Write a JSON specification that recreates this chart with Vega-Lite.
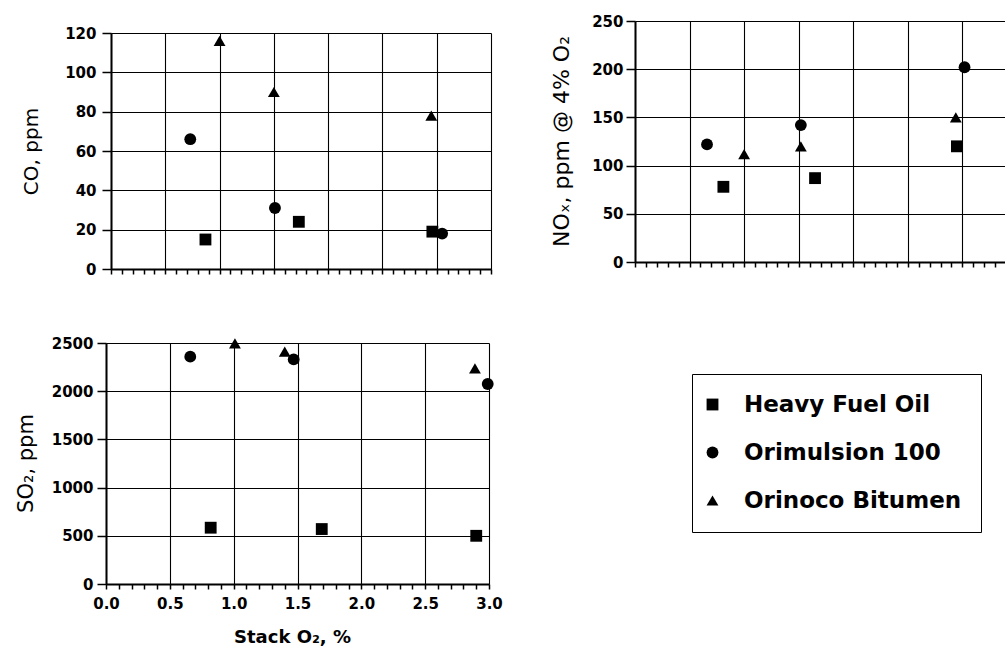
{
  "$schema": "https://vega.github.io/schema/vega-lite/v6.json",
  "padding": {"left": 14, "top": 14, "right": 0, "bottom": 0},
  "background": "white",
  "config": {
    "view": {"stroke": null},
    "font": "DejaVu Sans",
    "axis": {
      "domainColor": "black", "domainWidth": 2,
      "tickColor": "black", "tickWidth": 1.5,
      "gridColor": "black", "gridWidth": 1.1,
      "labelFont": "DejaVu Sans", "labelFontWeight": "bold", "labelFontSize": 15, "labelColor": "black", "labelFlush": false,
      "titleFont": "DejaVu Sans", "titleFontSize": 21, "titleFontWeight": "normal", "titleColor": "black"
    },
    "legend": {"labelFont": "DejaVu Sans", "labelFontSize": 23, "labelFontWeight": "bold", "labelColor": "black", "labelLimit": 400}
  },
  "datasets": {
    "co": [
      {"fuel": "Heavy Fuel Oil", "o2": 0.87, "value": 15},
      {"fuel": "Heavy Fuel Oil", "o2": 1.73, "value": 24},
      {"fuel": "Heavy Fuel Oil", "o2": 2.96, "value": 19},
      {"fuel": "Orimulsion 100", "o2": 0.73, "value": 66},
      {"fuel": "Orimulsion 100", "o2": 1.51, "value": 31},
      {"fuel": "Orimulsion 100", "o2": 3.05, "value": 18},
      {"fuel": "Orinoco Bitumen", "o2": 1.0, "value": 116},
      {"fuel": "Orinoco Bitumen", "o2": 1.5, "value": 90},
      {"fuel": "Orinoco Bitumen", "o2": 2.95, "value": 78}
    ],
    "nox": [
      {"fuel": "Heavy Fuel Oil", "o2": 0.81, "value": 78},
      {"fuel": "Heavy Fuel Oil", "o2": 1.65, "value": 87},
      {"fuel": "Heavy Fuel Oil", "o2": 2.95, "value": 120},
      {"fuel": "Orimulsion 100", "o2": 0.66, "value": 122},
      {"fuel": "Orimulsion 100", "o2": 1.52, "value": 142},
      {"fuel": "Orimulsion 100", "o2": 3.02, "value": 202},
      {"fuel": "Orinoco Bitumen", "o2": 1.0, "value": 112},
      {"fuel": "Orinoco Bitumen", "o2": 1.52, "value": 120},
      {"fuel": "Orinoco Bitumen", "o2": 2.94, "value": 150}
    ],
    "so2": [
      {"fuel": "Heavy Fuel Oil", "o2": 0.82, "value": 584},
      {"fuel": "Heavy Fuel Oil", "o2": 1.69, "value": 570},
      {"fuel": "Heavy Fuel Oil", "o2": 2.9, "value": 500},
      {"fuel": "Orimulsion 100", "o2": 0.66, "value": 2358},
      {"fuel": "Orimulsion 100", "o2": 1.47, "value": 2330},
      {"fuel": "Orimulsion 100", "o2": 2.99, "value": 2075},
      {"fuel": "Orinoco Bitumen", "o2": 1.01, "value": 2497},
      {"fuel": "Orinoco Bitumen", "o2": 1.4, "value": 2410},
      {"fuel": "Orinoco Bitumen", "o2": 2.89, "value": 2237}
    ]
  },
  "columns": 2,
  "spacing": {"row": 74, "column": 144},
  "bounds": "flush",
  "resolve": {"scale": {"x": "independent", "y": "independent", "shape": "independent", "size": "independent"}, "legend": {"shape": "independent", "size": "independent"}},
  "concat": [
    {
      "data": {"name": "co"},
      "width": 385,
      "height": 248,
      "resolve": {"axis": {"x": "independent"}},
      "layer": [
        {
          "mark": {"type": "point", "filled": true, "color": "black", "opacity": 1, "strokeWidth": 0},
          "encoding": {
            "x": {
              "field": "o2", "type": "quantitative",
              "scale": {"domain": [0, 3.5], "range": [5, 385], "nice": false, "zero": false},
              "axis": {
                "orient": "top", "title": null, "labels": false, "ticks": false, "domain": false, "grid": true,
                "values": [0, 0.5, 1, 1.5, 2, 2.5, 3, 3.5]
              }
            },
            "y": {
              "field": "value", "type": "quantitative",
              "scale": {"domain": [0, 120], "range": [248, 12], "nice": false},
              "axis": {
                "title": "CO, ppm", "offset": -5, "titleFontSize": 20,
                "titleX": -80, "titleY": 130, "titleAngle": -90, "titleAlign": "center", "titleBaseline": "middle",
                "values": [0, 20, 40, 60, 80, 100, 120], "format": "d",
                "tickSize": 9, "labelPadding": 6
              }
            },
            "shape": {
              "field": "fuel", "type": "nominal",
              "scale": {"domain": ["Heavy Fuel Oil", "Orimulsion 100", "Orinoco Bitumen"], "range": ["square", "circle", "triangle-up"]},
              "legend": null
            },
            "size": {
              "field": "fuel", "type": "nominal",
              "scale": {"domain": ["Heavy Fuel Oil", "Orimulsion 100", "Orinoco Bitumen"], "range": [140, 140, 185]},
              "legend": null
            }
          }
        },
        {
          "mark": {"type": "point", "opacity": 0},
          "encoding": {
            "x": {
              "field": "o2", "type": "quantitative",
              "axis": {
                "orient": "bottom", "title": null, "labels": false, "grid": false, "tickSize": 5,
                "values": [0,0.1,0.2,0.3,0.4,0.5,0.6,0.7,0.8,0.9,1,1.1,1.2,1.3,1.4,1.5,1.6,1.7,1.8,1.9,2,2.1,2.2,2.3,2.4,2.5,2.6,2.7,2.8,2.9,3,3.1,3.2,3.3,3.4,3.5]
              }
            }
          }
        }
      ]
    },
    {
      "data": {"name": "nox"},
      "width": 371,
      "height": 241,
      "mark": {"type": "point", "filled": true, "color": "black", "opacity": 1, "strokeWidth": 0},
      "encoding": {
        "x": {
          "field": "o2", "type": "quantitative",
          "scale": {"domain": [0, 3.4], "nice": false, "zero": false},
          "axis": {
            "title": null, "labels": false, "tickSize": 5,
            "values": [0,0.1,0.2,0.3,0.4,0.5,0.6,0.7,0.8,0.9,1,1.1,1.2,1.3,1.4,1.5,1.6,1.7,1.8,1.9,2,2.1,2.2,2.3,2.4,2.5,2.6,2.7,2.8,2.9,3,3.1,3.2,3.3,3.4],
            "gridOpacity": {"condition": {"test": "abs(datum.value*2 - round(datum.value*2)) < 0.01", "value": 1}, "value": 0}
          }
        },
        "y": {
          "field": "value", "type": "quantitative",
          "scale": {"domain": [0, 250], "nice": false},
          "axis": {
            "title": "NOₓ, ppm @ 4% O₂", "titleFontSize": 22,
            "titleX": -74, "titleY": 120, "titleAngle": -90, "titleAlign": "center", "titleBaseline": "middle",
            "values": [0, 50, 100, 150, 200, 250], "format": "d",
            "tickSize": 9, "labelPadding": 3
          }
        },
        "shape": {
          "field": "fuel", "type": "nominal",
          "scale": {"domain": ["Heavy Fuel Oil", "Orimulsion 100", "Orinoco Bitumen"], "range": ["square", "circle", "triangle-up"]},
          "legend": null
        },
        "size": {
          "field": "fuel", "type": "nominal",
          "scale": {"domain": ["Heavy Fuel Oil", "Orimulsion 100", "Orinoco Bitumen"], "range": [140, 140, 185]},
          "legend": null
        }
      }
    },
    {
      "data": {"name": "so2"},
      "width": 383,
      "height": 241,
      "mark": {"type": "point", "filled": true, "color": "black", "opacity": 1, "strokeWidth": 0},
      "encoding": {
        "x": {
          "field": "o2", "type": "quantitative",
          "scale": {"domain": [0, 3], "nice": false, "zero": false},
          "axis": {
            "title": "Stack O₂, %", "titleFontWeight": "bold", "titleFontSize": 18,
            "titleX": 186, "titleAlign": "center", "titleY": 53, "titleBaseline": "middle",
            "values": [0,0.1,0.2,0.3,0.4,0.5,0.6,0.7,0.8,0.9,1,1.1,1.2,1.3,1.4,1.5,1.6,1.7,1.8,1.9,2,2.1,2.2,2.3,2.4,2.5,2.6,2.7,2.8,2.9,3],
            "labelExpr": "abs(datum.value*2 - round(datum.value*2)) < 0.01 ? format(datum.value, '.1f') : ''",
            "labelAlign": "center", "labelFlush": false, "labelOverlap": false,
            "tickSize": 5, "labelPadding": 7,
            "gridOpacity": {"condition": {"test": "abs(datum.value*2 - round(datum.value*2)) < 0.01", "value": 1}, "value": 0}
          }
        },
        "y": {
          "field": "value", "type": "quantitative",
          "scale": {"domain": [0, 2500], "nice": false},
          "axis": {
            "title": "SO₂, ppm",
            "titleX": -80, "titleY": 120, "titleAngle": -90, "titleAlign": "center", "titleBaseline": "middle",
            "values": [0, 500, 1000, 1500, 2000, 2500], "format": "d",
            "tickSize": 9, "labelPadding": 4
          }
        },
        "shape": {
          "field": "fuel", "type": "nominal",
          "scale": {"domain": ["Heavy Fuel Oil", "Orimulsion 100", "Orinoco Bitumen"], "range": ["square", "circle", "triangle-up"]},
          "legend": {
            "title": null, "orient": "none", "legendX": 586, "legendY": 31,
            "direction": "vertical",
            "strokeColor": "black", "fillColor": "white",
            "padding": 19, "rowPadding": 24, "labelOffset": 20, "symbolOffset": -10,
            "symbolFillColor": "black", "symbolStrokeColor": "black", "symbolStrokeWidth": 0
          }
        },
        "size": {
          "field": "fuel", "type": "nominal",
          "scale": {"domain": ["Heavy Fuel Oil", "Orimulsion 100", "Orinoco Bitumen"], "range": [140, 140, 185]}
        }
      }
    }
  ]
}
